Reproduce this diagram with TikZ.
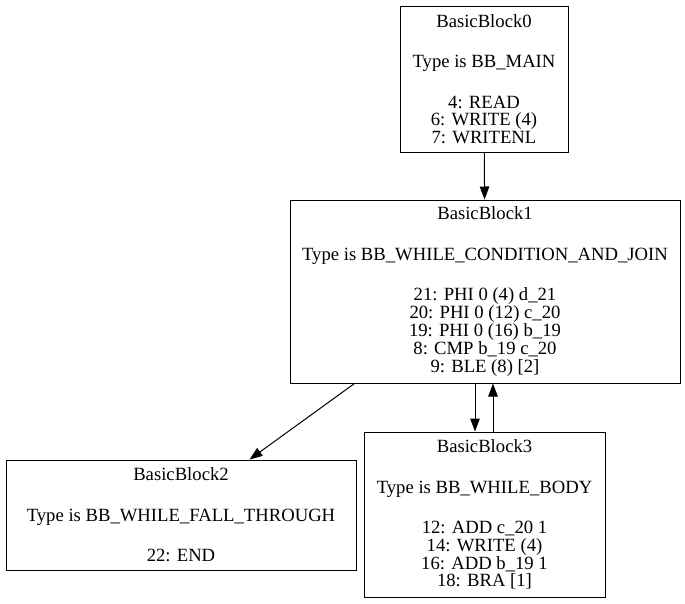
\documentclass[tikz,border=0pt]{standalone}
\usepackage{fontspec}
\setmainfont{Liberation Serif}
\usetikzlibrary{arrows.meta}
\tikzstyle{bb}=[draw,line width=1pt,inner sep=0pt,align=center,font=\fontsize{18.67}{17.8}\selectfont]
\tikzstyle{cfg}=[line width=1pt,-{Triangle[length=13pt,width=9.5pt]}]
\newcommand\gap{\\[22.7pt]}
\begin{document}
\begin{tikzpicture}[x=1pt,y=-1pt]
	\useasboundingbox (0,0) rectangle (685,603);
	\node[bb,minimum width=168pt,minimum height=146pt] (bb0) at (484,79)
	  {BasicBlock0\gap Type is BB\_MAIN\gap 4: READ\\ 6: WRITE (4)\\ 7: WRITENL};
	\node[bb,minimum width=390pt,minimum height=183pt] (bb1) at (485,291.5)
	  {BasicBlock1\gap Type is BB\_WHILE\_CONDITION\_AND\_JOIN\gap
	   21: PHI 0 (4) d\_21\\ 20: PHI 0 (12) c\_20\\ 19: PHI 0 (16) b\_19\\
	   8: CMP b\_19 c\_20\\ 9: BLE (8) [2]};
	\node[bb,minimum width=350pt,minimum height=110pt] (bb2) at (181,515)
	  {BasicBlock2\gap Type is BB\_WHILE\_FALL\_THROUGH\gap 22: END};
	\node[bb,minimum width=241pt,minimum height=165pt] (bb3) at (484.5,514.5)
	  {BasicBlock3\gap Type is BB\_WHILE\_BODY\gap
	   12: ADD c\_20 1\\ 14: WRITE (4)\\ 16: ADD b\_19 1\\ 18: BRA [1]};
	\draw[cfg] (bb0) -- (bb1);
	\draw[cfg] ([xshift=65pt]bb1.south west) -- ([xshift=244pt]bb2.north west);
	\draw[cfg] ([xshift=-10pt]bb1.south) -- ([xshift=-9.5pt]bb3.north);
	\draw[cfg] ([xshift=8.5pt]bb3.north) -- ([xshift=8pt]bb1.south);
\end{tikzpicture}
\end{document}
